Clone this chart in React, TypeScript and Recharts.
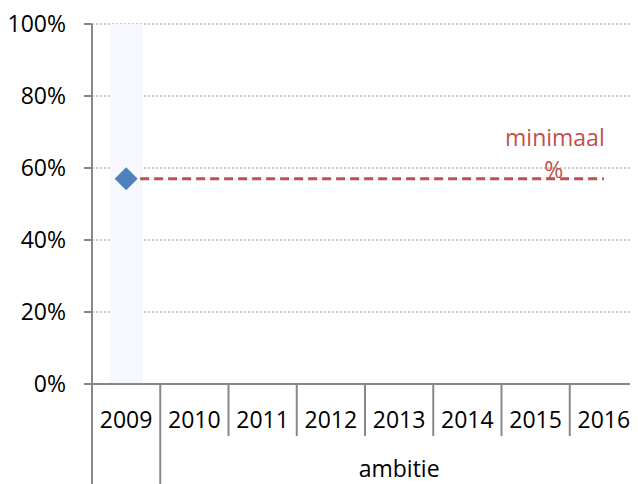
import React from "react";
import { ComposedChart, Bar, Line, XAxis, YAxis, CartesianGrid } from "recharts";

const years = ["2009", "2010", "2011", "2012", "2013", "2014", "2015", "2016"];
const highlight = [100, null, null, null, null, null, null, null];
const actual = [57, null, null, null, null, null, null, null];
const minimum = [57, 57, 57, 57, 57, 57, 57, 57];
const yTicks = [0, 20, 40, 60, 80, 100];
const groupLabel = "ambitie";
const minLabel = ["minimaal", "%"];

const W = 630;
const H = 476;
const LEFT = 84;
const BAND = (W - LEFT) / years.length;
const FONT = "'Open Sans', sans-serif";
const AXIS = "#878787";
const RED = "#c0504d";

const data = years.map((y, i) => ({
  year: y,
  band: highlight[i],
  actual: actual[i],
  min: minimum[i],
}));

const XTick = (p: any) => {
  const { x, y, payload, index } = p;
  const left = x - BAND / 2;
  return (
    <g>
      <line x1={left} x2={left} y1={y} y2={index < 2 ? y + 100 : y + 52} stroke={AXIS} strokeWidth={2} />
      <text x={x} y={y + 44} textAnchor="middle" fontSize={23} fontFamily={FONT} fill="#000">{payload.value}</text>
      {index === 1 && (
        <text x={left + (BAND * 7) / 2} y={y + 93} textAnchor="middle" fontSize={23} fontFamily={FONT} fill="#000">
          {groupLabel}
        </text>
      )}
    </g>
  );
};

const Diamond = (p: any) => {
  const { cx, cy, value } = p;
  if (value == null || cx == null) return <g />;
  const r = 11.5;
  return <path d={`M${cx},${cy - r}L${cx + r},${cy}L${cx},${cy + r}L${cx - r},${cy}Z`} fill="#4f81bd" />;
};

const MinLabel = (p: any) => {
  const { x, y, index } = p;
  if (index !== years.length - 1) return null;
  return (
    <g>
      <text x={x - 49} y={y - 33} textAnchor="middle" fontSize={23} fontFamily={FONT} fill={RED}>{minLabel[0]}</text>
      <text x={x - 50} y={y - 1} textAnchor="middle" fontSize={23} fontFamily={FONT} fill={RED}>{minLabel[1]}</text>
    </g>
  );
};

export default function App() {
  return (
    <ComposedChart width={W} height={H} data={data} margin={{ top: 16, right: 0, bottom: 0, left: 0 }}>
      <CartesianGrid vertical={false} stroke="#999" strokeDasharray="2 2" />
      <XAxis
        dataKey="year"
        height={100}
        tickSize={0}
        tickMargin={0}
        tickLine={false}
        axisLine={{ stroke: AXIS, strokeWidth: 2 }}
        tick={<XTick />}
        interval={0}
      />
      <YAxis
        width={LEFT}
        domain={[0, 100]}
        ticks={yTicks}
        tickFormatter={(v: number) => `${v}%`}
        tickSize={8}
        tickMargin={18}
        axisLine={{ stroke: AXIS, strokeWidth: 2 }}
        tickLine={{ stroke: AXIS, strokeWidth: 2 }}
        tick={{ fontSize: 23, fontFamily: FONT, fill: "#000" }}
      />
      <Bar dataKey="band" fill="#f6f8fe" barSize={33} isAnimationActive={false} />
      <Line
        dataKey="min"
        stroke={RED}
        strokeWidth={3}
        strokeDasharray="9 5"
        dot={false}
        label={<MinLabel />}
        isAnimationActive={false}
      />
      <Line dataKey="actual" stroke="none" dot={<Diamond />} activeDot={false} isAnimationActive={false} />
    </ComposedChart>
  );
}
